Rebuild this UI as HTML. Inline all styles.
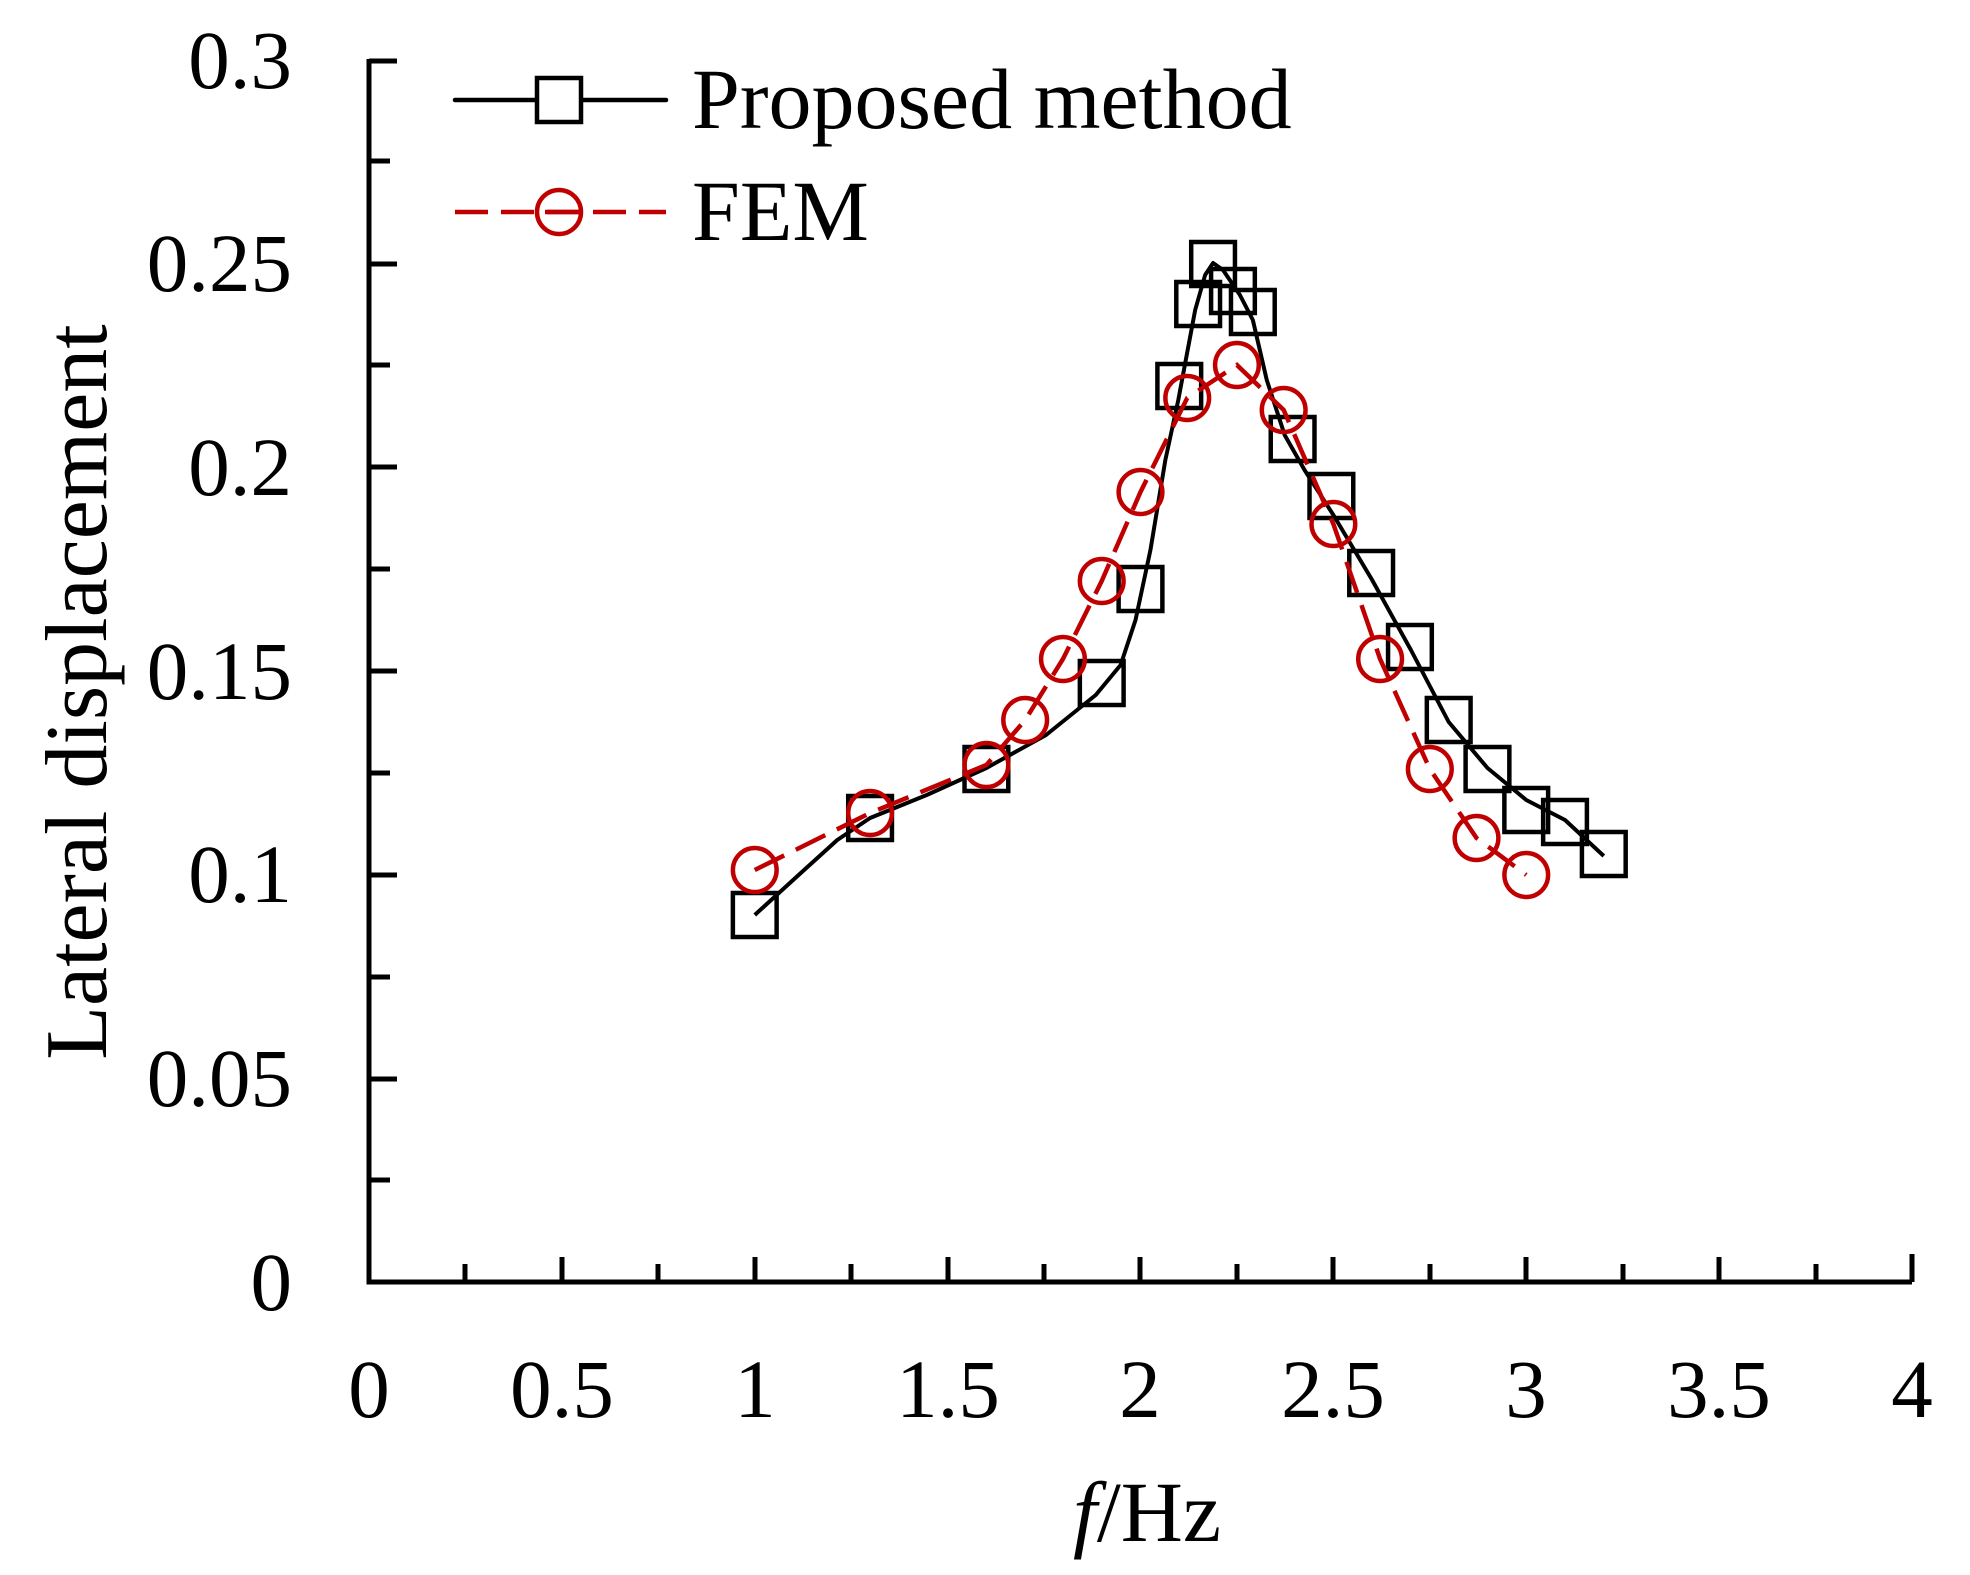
<!DOCTYPE html>
<html><head><meta charset="utf-8"><style>
html,body{margin:0;padding:0;background:#fff;}
svg{display:block;}
text{font-family:"Liberation Serif",serif;fill:#000;}
</style></head><body>
<svg width="1970" height="1575" viewBox="0 0 1970 1575" xmlns="http://www.w3.org/2000/svg">
<g stroke="#000" stroke-width="5" fill="none">
<path d="M369,59 V1282 H1912"/>
<path d="M369,61H397 M369,1079H397 M369,875H397 M369,671H397 M369,467H397 M369,264H397"/>
<path d="M369,161H390 M369,365H390 M369,569H390 M369,773H390 M369,977H390 M369,1180H390"/>
<path d="M562,1282V1257 M755,1282V1257 M948,1282V1257 M1140,1282V1257 M1333,1282V1257 M1526,1282V1257 M1719,1282V1257 M1912,1282V1254"/>
<path d="M465,1282V1264 M658,1282V1264 M851,1282V1264 M1044,1282V1264 M1237,1282V1264 M1430,1282V1264 M1623,1282V1264 M1816,1282V1264"/>
</g>
<g font-size="83" text-anchor="end">
<text x="292" y="88">0.3</text>
<text x="292" y="291">0.25</text>
<text x="292" y="495">0.2</text>
<text x="292" y="699">0.15</text>
<text x="292" y="902">0.1</text>
<text x="292" y="1106">0.05</text>
<text x="292" y="1310">0</text>
</g>
<g font-size="83" text-anchor="middle">
<text x="369" y="1417">0</text>
<text x="562" y="1417">0.5</text>
<text x="755" y="1417">1</text>
<text x="948" y="1417">1.5</text>
<text x="1140" y="1417">2</text>
<text x="1333" y="1417">2.5</text>
<text x="1526" y="1417">3</text>
<text x="1719" y="1417">3.5</text>
<text x="1912" y="1417">4</text>
</g>
<text x="1147" y="1541" font-size="86" text-anchor="middle"><tspan font-style="italic">f</tspan>/Hz</text>
<text transform="translate(106,692) rotate(-90)" font-size="88" text-anchor="middle">Lateral displacement</text>
<g transform="translate(369,0) scale(0.9942,1) translate(-369,0)">
<polyline fill="none" stroke="#000" stroke-width="4" stroke-linejoin="round" points="757,915 800,876 840,840 873,818 930,795 990,768 1050,735 1100,695 1125,665 1140,620 1155,550 1170,460 1183,400 1200,310 1210,275 1218,263 1228,270 1245,295 1258,320 1272,380 1290,435 1310,470 1339,515 1378,580 1417,650 1455,722 1494,768 1533,800 1572,820 1611,856"/>
<g fill="none" stroke="#000" stroke-width="4.5">
<rect x="735" y="893" width="44" height="44"/>
<rect x="851" y="796" width="44" height="44"/>
<rect x="968" y="747" width="44" height="44"/>
<rect x="1084" y="661" width="44" height="44"/>
<rect x="1123" y="567" width="44" height="44"/>
<rect x="1162" y="364" width="44" height="44"/>
<rect x="1181" y="282" width="44" height="44"/>
<rect x="1196" y="242" width="44" height="44"/>
<rect x="1216" y="269" width="44" height="44"/>
<rect x="1236" y="290" width="44" height="44"/>
<rect x="1276" y="417" width="44" height="44"/>
<rect x="1315" y="474" width="44" height="44"/>
<rect x="1355" y="551" width="44" height="44"/>
<rect x="1394" y="625" width="44" height="44"/>
<rect x="1433" y="698" width="44" height="44"/>
<rect x="1472" y="747" width="44" height="44"/>
<rect x="1511" y="788" width="44" height="44"/>
<rect x="1550" y="800" width="44" height="44"/>
<rect x="1589" y="832" width="44" height="44"/>
</g>
<polyline fill="none" stroke="#c00000" stroke-width="4.5" stroke-dasharray="33,13" points="757,870 873,813 990,765 1029,720 1067,659 1106,581 1145,492 1192,398 1242,365 1289,410 1339,524 1386,659 1436,769 1483,838 1533,875"/>
<g fill="none" stroke="#c00000" stroke-width="4.5">
<circle cx="757" cy="870" r="22"/>
<circle cx="873" cy="813" r="22"/>
<circle cx="990" cy="765" r="22"/>
<circle cx="1029" cy="720" r="22"/>
<circle cx="1067" cy="659" r="22"/>
<circle cx="1106" cy="581" r="22"/>
<circle cx="1145" cy="492" r="22"/>
<circle cx="1192" cy="398" r="22"/>
<circle cx="1242" cy="365" r="22"/>
<circle cx="1289" cy="410" r="22"/>
<circle cx="1339" cy="524" r="22"/>
<circle cx="1386" cy="659" r="22"/>
<circle cx="1436" cy="769" r="22"/>
<circle cx="1483" cy="838" r="22"/>
<circle cx="1533" cy="875" r="22"/>
</g>
</g>
<line x1="455" y1="100" x2="666" y2="100" stroke="#000" stroke-width="4.5" stroke-linecap="round"/>
<rect x="537" y="78" width="44" height="44" fill="#fff" stroke="#000" stroke-width="4.5"/>
<line x1="455" y1="212" x2="666" y2="212" stroke="#c00000" stroke-width="4.5" stroke-dasharray="33,13"/>
<circle cx="559" cy="212" r="22" fill="none" stroke="#c00000" stroke-width="4.5"/>
<line x1="545" y1="212" x2="582" y2="212" stroke="#c00000" stroke-width="4.5"/>
<text x="692" y="128" font-size="86">Proposed method</text>
<text x="692" y="240" font-size="86">FEM</text>
</svg>
</body></html>
